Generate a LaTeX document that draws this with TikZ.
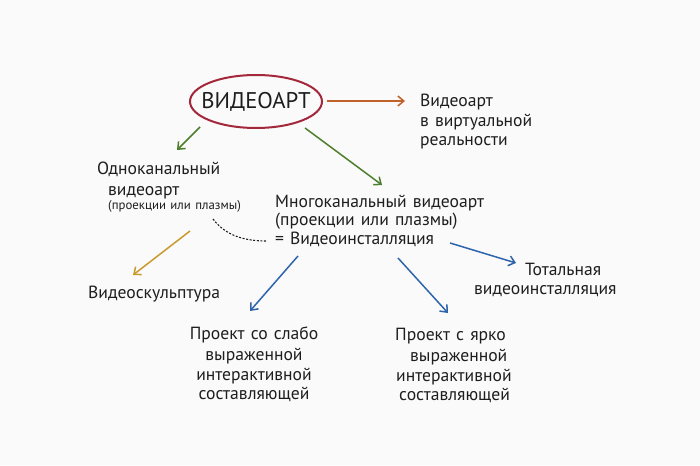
\documentclass[tikz,border=0pt]{standalone}
\usepackage{fontspec}
\setmainfont{PT Sans}[WordSpace=1.3]
\usetikzlibrary{arrows.meta,shapes.geometric}
\definecolor{bg}{HTML}{FAFAFA}
\definecolor{txt}{HTML}{1E1E1E}
\definecolor{ellred}{HTML}{A3283C}
\definecolor{arrorange}{HTML}{C0622A}
\definecolor{arrgreen}{HTML}{4E7E2C}
\definecolor{arryellow}{HTML}{C99A2E}
\definecolor{arrblue}{HTML}{2E64AA}
\begin{document}
\begin{tikzpicture}[x=1pt,y=-1pt,
  lbl/.style={text=txt,font=\fontsize{17.6}{21}\selectfont,inner sep=0pt,anchor=base west},
  clbl/.style={text=txt,font=\fontsize{17.6}{21}\selectfont,inner sep=0pt,anchor=base},
  small/.style={text=txt,font=\fontsize{12.8}{16}\selectfont,inner sep=0pt,anchor=base west},
  arr/.style={line width=1.5pt,-{Straight Barb[length=6pt,width=10pt,line width=1.5pt]}},
]
\fill[bg] (0,0) rectangle (700,465);
\useasboundingbox (0,0) rectangle (700,465);

\node[text=txt,font=\fontsize{22.7}{24}\selectfont,inner sep=0pt] (va) at (256,101.5) {ВИДЕОАРТ};
\draw[ellred,line width=2pt] (va.center) ellipse [x radius=66pt,y radius=26.5pt];

\node[lbl] (vr1) at (420,107) {Видеоарт};
\node[lbl] (vr2) at (420,127) {в виртуальной};
\node[lbl] (vr3) at (420,146) {реальности};

\node[lbl] (one1) at (97,174) {Одноканальный};
\node[lbl] (one2) at (108,195) {видеоарт};
\node[small] (onep) at (108,209) {(проекции или плазмы)};

\node[lbl] (m1) at (275,207) {Многоканальный видеоарт};
\node[lbl] (m2) at (275,225.5) {(проекции или плазмы)};
\node[lbl] (m3) at (275,244) {= Видеоинсталляция};

\node[lbl] (vs) at (88,298) {Видеоскульптура};

\node[lbl] (tot1) at (525,275) {Тотальная};
\node[lbl] (tot2) at (474,294) {видеоинсталляция};

\node[clbl] (w1) at (254,339) {Проект со слабо};
\node[clbl] (w2) at (254,360) {выраженной};
\node[clbl] (w3) at (254,380) {интерактивной};
\node[clbl] (w4) at (254,399) {составляющей};

\node[lbl] (s1) at (395,340) {Проект с ярко};
\node[lbl] (s2) at (410,361) {выраженной};
\node[lbl] (s3) at (396,381) {интерактивной};
\node[lbl] (s4) at (399,400) {составляющей};

\coordinate (a1s) at (327,101); \coordinate (a1e) at (405,101);
\draw[arr,arrorange] (a1s) -- (a1e);

\coordinate (a2s) at (200,127); \coordinate (a2e) at (177,150);
\draw[arr,arrgreen] (a2s) -- (a2e);

\coordinate (a3s) at (305,128); \coordinate (a3e) at (382,185);
\draw[arr,arrgreen] (a3s) -- (a3e);

\coordinate (a4s) at (190,231); \coordinate (a4e) at (133,275);
\draw[arr,arryellow] (a4s) -- (a4e);

\coordinate (a5s) at (298,256); \coordinate (a5e) at (250,311);
\draw[arr,arrblue] (a5s) -- (a5e);

\coordinate (a6s) at (398,258); \coordinate (a6e) at (448,313);
\draw[arr,arrblue] (a6s) -- (a6e);

\coordinate (a7s) at (450,243); \coordinate (a7e) at (516,263);
\draw[arr,arrblue] (a7s) -- (a7e);

\coordinate (ds) at (213,219); \coordinate (de) at (267,241);
\draw[txt,line width=1.1pt,dash pattern=on 2pt off 1.6pt] (ds) .. controls (226,236) and (245,241) .. (de);
\end{tikzpicture}
\end{document}
